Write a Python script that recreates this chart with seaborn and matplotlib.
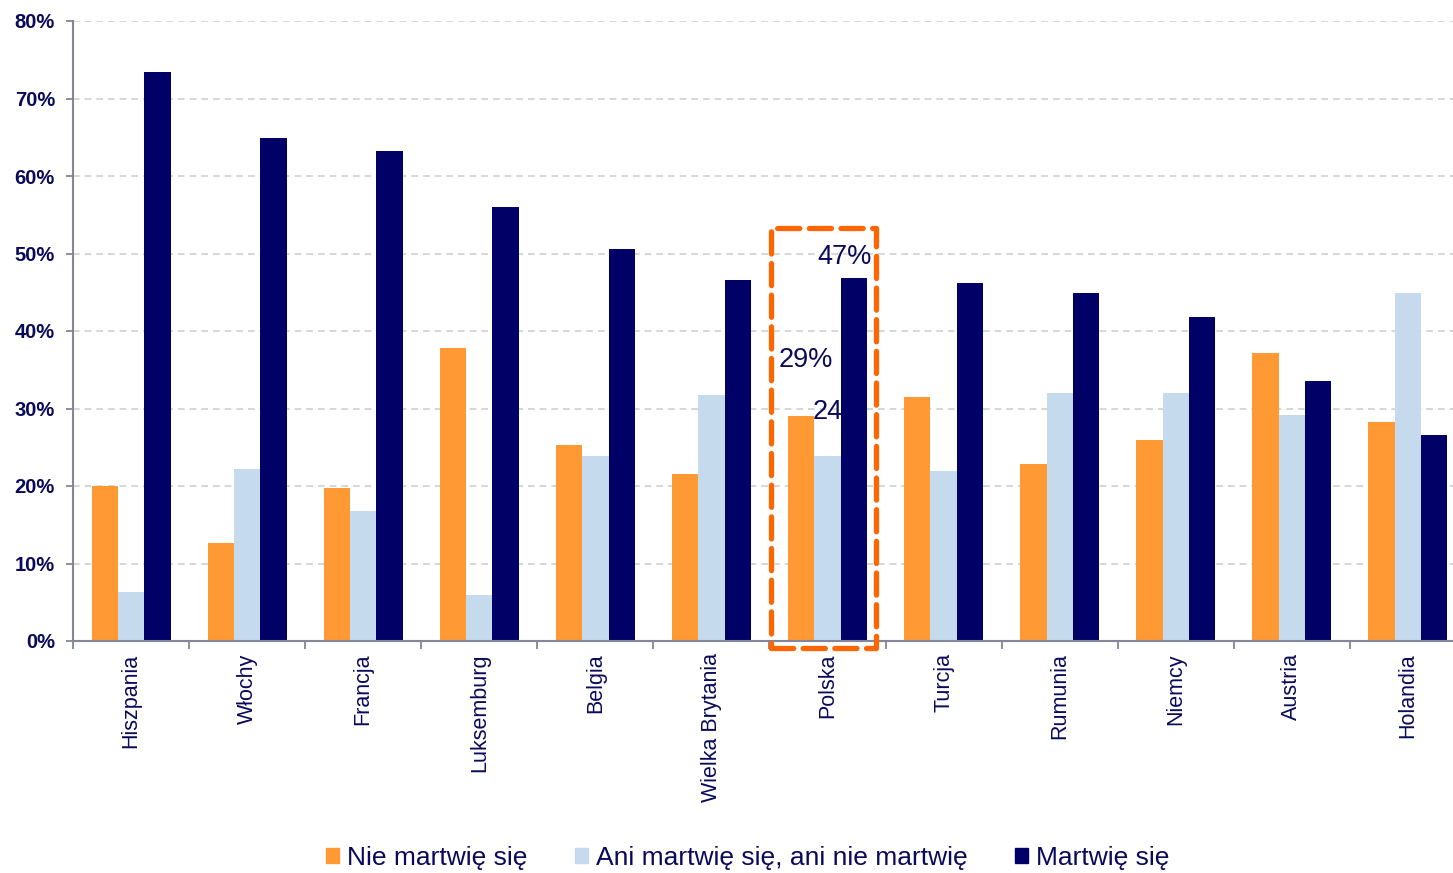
import matplotlib
matplotlib.use("Agg")
import matplotlib.pyplot as plt
from matplotlib.patches import Rectangle
from matplotlib.ticker import FixedLocator, PercentFormatter
import numpy as np
import pandas as pd
import seaborn as sns

# Data
countries = ["Hiszpania", "Włochy", "Francja", "Luksemburg", "Belgia", "Wielka Brytania",
             "Polska", "Turcja", "Rumunia", "Niemcy", "Austria", "Holandia"]
series = ["Nie martwię się", "Ani martwię się, ani nie martwię", "Martwię się"]
nie_martwie = [20.0, 12.6, 19.7, 37.8, 25.3, 21.5, 29.0, 31.5, 22.8, 25.9, 37.2, 28.3]
ani_ani = [6.3, 22.2, 16.8, 5.9, 23.9, 31.7, 23.9, 21.9, 32.0, 32.0, 29.2, 44.9]
martwie = [73.4, 64.9, 63.2, 56.0, 50.6, 46.6, 46.8, 46.2, 44.9, 41.8, 33.5, 26.6]
highlight = "Polska"
highlight_labels = ["29%", "24%", "47%"]

colors = ["#FF9933", "#C6DAEE", "#000066"]
navy = "#0A0A5C"

df = pd.DataFrame({
    "kraj": np.tile(countries, 3),
    "grupa": np.repeat(series, len(countries)),
    "val": nie_martwie + ani_ani + martwie,
})

sns.set_theme(style="white")
plt.rcParams["font.family"] = ["Liberation Sans", "DejaVu Sans"]

fig = plt.figure(figsize=(14.53, 8.73), dpi=100)
# the plot area runs a little past the right edge of the picture
ax = fig.add_axes([73 / 1453, 1 - 641 / 873, 1393 / 1453, 620 / 873])

sns.barplot(data=df, x="kraj", y="val", hue="grupa", palette=colors, width=0.68,
            saturation=1, linewidth=0, ax=ax, legend=False, zorder=2)

ax.set_ylim(0, 80)
ax.set_xlim(-0.5, len(countries) - 0.5)
ax.yaxis.set_major_locator(FixedLocator(np.arange(0, 81, 10)))
ax.yaxis.set_major_formatter(PercentFormatter(decimals=0))
ax.grid(axis="y", linestyle=(0, (4, 3)), color="#CFCFCF", linewidth=1.2, zorder=0)
ax.set_axisbelow(True)
ax.set_xlabel("")
ax.set_ylabel("")

for s in ["top", "right"]:
    ax.spines[s].set_visible(False)
for s in ["left", "bottom"]:
    ax.spines[s].set_color("#858599")
    ax.spines[s].set_linewidth(1.5)

ax.tick_params(axis="y", which="major", left=True, length=5, width=1.3, color="#858599",
               labelsize=14.5, labelcolor=navy, pad=8)
for lab in ax.get_yticklabels():
    lab.set_fontweight("bold")

ax.set_xticks(range(len(countries)))
ax.set_xticklabels(countries, rotation=90, fontsize=15.5, color=navy)
ax.tick_params(axis="x", which="major", length=0, pad=9)
ax.xaxis.set_minor_locator(FixedLocator(np.arange(-0.5, len(countries), 1)))
ax.tick_params(axis="x", which="minor", bottom=True, length=6, width=1.3, color="#858599")

# Highlight box around Polska
i = countries.index(highlight)
top = max(nie_martwie[i], ani_ani[i], martwie[i]) + 6.5
box = Rectangle((i - 0.49, -0.9), 0.91, top + 0.9, fill=False, edgecolor="#FF6600",
                linewidth=3.8, linestyle=(0, (4.2, 1.8)), joinstyle="round",
                capstyle="round", clip_on=False, zorder=5)
ax.add_patch(box)

ax.text(i + 0.15, martwie[i] + 2.7, highlight_labels[2], ha="center", va="center",
        fontsize=19.5, color=navy, zorder=4)
ax.text(i - 0.19, nie_martwie[i] + 7.3, highlight_labels[0], ha="center", va="center",
        fontsize=19.5, color=navy, zorder=4)
# the "%" of this label sits behind the dark bar
ax.text(i - 0.13, ani_ani[i] + 5.6, highlight_labels[1], ha="left", va="center",
        fontsize=19.5, color=navy, zorder=1)

handles = [Rectangle((0, 0), 1, 1, color=c) for c in colors]
fig.legend(handles, series, loc="center", bbox_to_anchor=(0.5145, 1 - 858 / 873), ncol=3,
           frameon=False, fontsize=19, handlelength=0.5, handleheight=0.5,
           handletextpad=0.3, columnspacing=1.8, labelcolor=navy)

fig.savefig("out.png", dpi=100)
